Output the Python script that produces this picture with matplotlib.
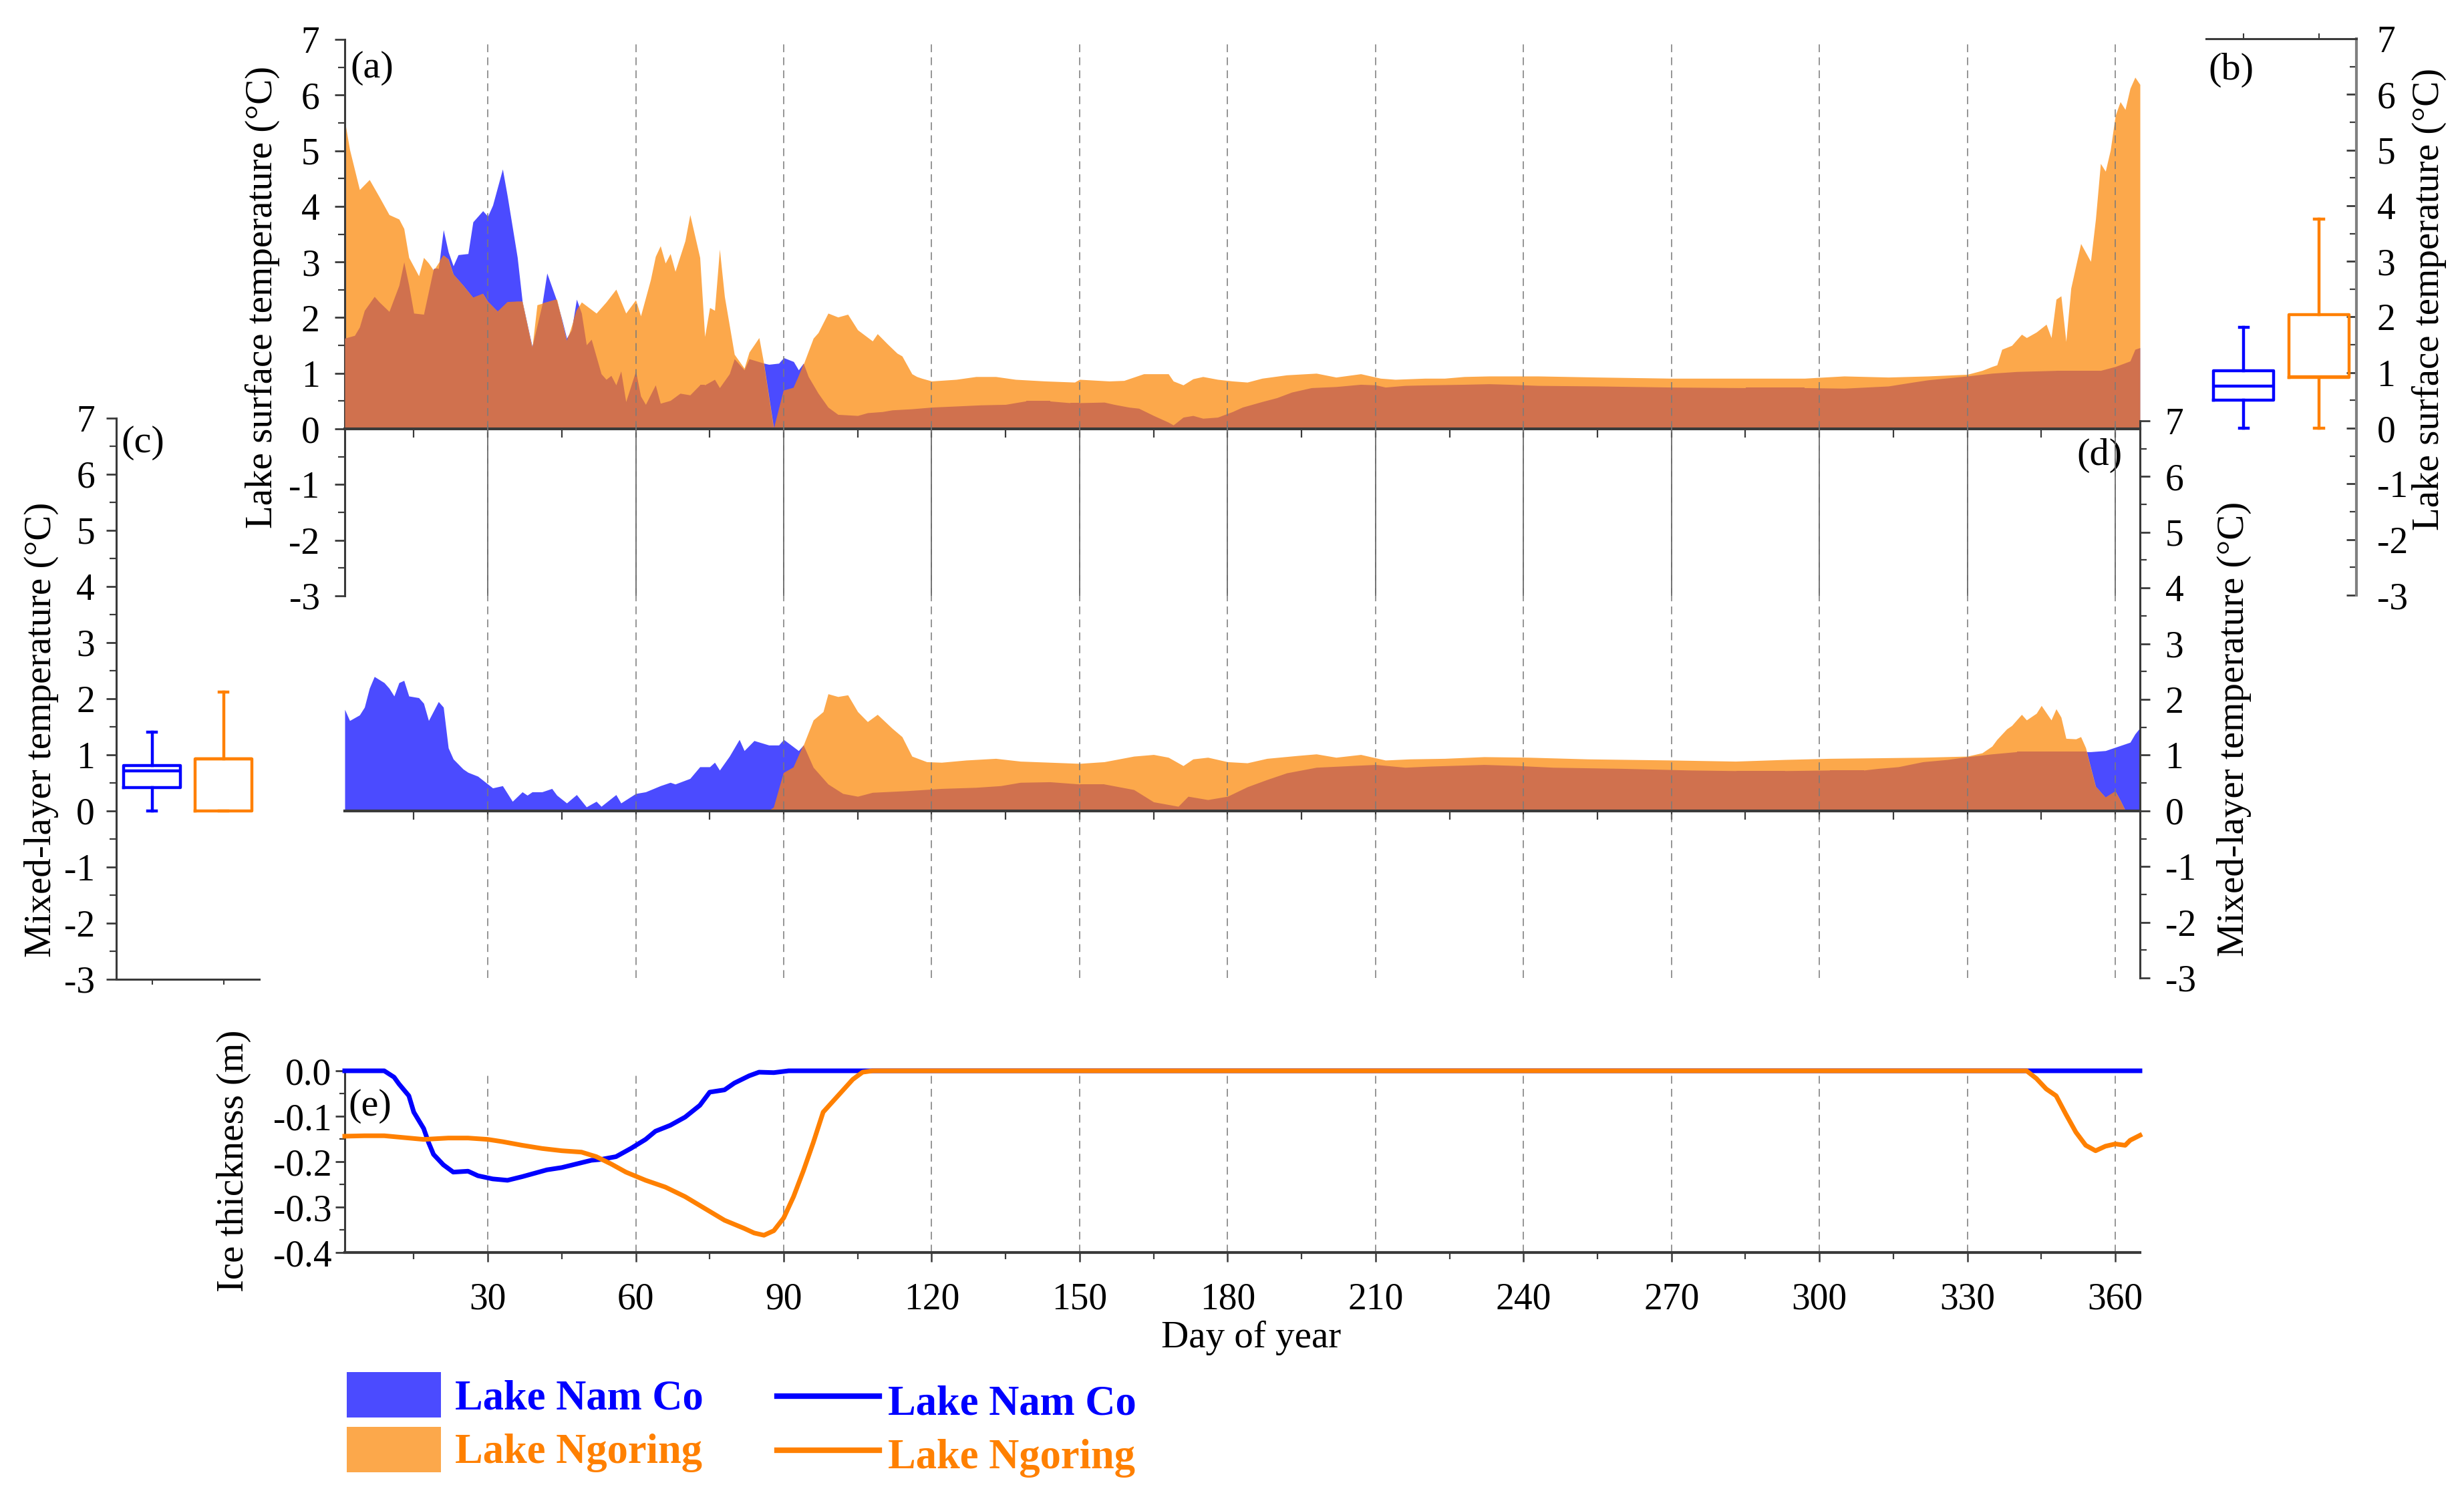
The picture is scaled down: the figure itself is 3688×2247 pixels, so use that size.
import numpy as np
import matplotlib
matplotlib.use("Agg")
import matplotlib.pyplot as plt
from matplotlib.patches import Patch
from matplotlib.lines import Line2D
from matplotlib.ticker import FixedLocator, MultipleLocator

plt.rcParams['font.family'] = ['Liberation Serif', 'DejaVu Serif']
plt.rcParams['axes.unicode_minus'] = False

# ---------------- data ----------------
# (a) lake surface temperature, Lake Ngoring
a_ngo_day = [1, 2, 4, 6, 8, 10, 12, 13, 14, 16,
             17, 18, 19, 21, 22, 23, 25, 27, 29, 30,
             32, 34, 36, 37, 39, 40, 42, 44, 46, 48,
             49, 52, 54, 56, 58, 60, 61, 63, 64, 65,
             66, 67, 68, 70, 71, 73, 74, 75, 76, 77,
             78, 80, 82, 83, 85, 86, 88, 90, 92, 93,
             94, 96, 97, 99, 101, 103, 105, 108, 109, 111,
             113, 114, 116, 117, 118, 120, 125, 129, 133, 137,
             143, 149, 150, 156, 159, 163, 168, 169, 171, 173,
             175, 178, 181, 184, 187, 192, 198, 202, 207, 211,
             214, 220, 224, 228, 233, 243, 255, 270, 285, 297,
             305, 314, 322, 330, 333, 335, 336, 337, 339, 341,
             342, 344, 346, 347, 348, 349, 350, 351, 353, 355,
             356, 357, 358, 359, 360, 361, 362, 363, 364, 365]
a_ngo = [5.54, 5.02, 4.30, 4.48, 4.17, 3.85, 3.77, 3.60, 3.08, 2.75,
         3.08, 2.98, 2.85, 3.12, 3.05, 2.78, 2.58, 2.36, 2.43, 2.29,
         2.11, 2.28, 2.29, 2.29, 1.46, 2.23, 2.28, 2.33, 1.58, 2.13,
         2.28, 2.08, 2.28, 2.51, 2.08, 2.32, 2.03, 2.68, 3.10, 3.29,
         2.98, 3.15, 2.83, 3.38, 3.85, 3.08, 1.66, 2.18, 2.13, 3.23,
         2.38, 1.34, 1.09, 1.38, 1.64, 1.16, 0.00, 0.69, 0.74, 0.94,
         1.16, 1.63, 1.73, 2.08, 2.01, 2.06, 1.78, 1.58, 1.71, 1.53,
         1.36, 1.31, 0.99, 0.94, 0.91, 0.86, 0.89, 0.94, 0.94, 0.89,
         0.86, 0.84, 0.89, 0.86, 0.87, 0.99, 0.99, 0.86, 0.79, 0.90,
         0.94, 0.89, 0.86, 0.84, 0.91, 0.97, 1.00, 0.93, 0.99, 0.91,
         0.89, 0.91, 0.91, 0.94, 0.95, 0.95, 0.93, 0.91, 0.91, 0.91,
         0.95, 0.93, 0.95, 0.98, 1.05, 1.12, 1.15, 1.43, 1.50, 1.70,
         1.64, 1.74, 1.88, 1.64, 2.33, 2.39, 1.57, 2.53, 3.33, 3.01,
         3.77, 4.77, 4.63, 5.01, 5.63, 5.88, 5.74, 6.12, 6.32, 6.19]

# (a) lake surface temperature, Lake Nam Co
a_nam_day = [1, 3, 4, 5, 7, 8, 10, 12, 13, 14,
             15, 17, 19, 20, 21, 22, 23, 24, 26, 27,
             28, 29, 30, 31, 33, 34, 36, 37, 39, 41,
             42, 44, 45, 46, 47, 48, 49, 50, 51, 53,
             54, 55, 56, 57, 58, 60, 61, 62, 64, 65,
             67, 69, 71, 73, 74, 76, 77, 79, 80, 82,
             83, 86, 87, 89, 90, 92, 93, 94, 95, 97,
             99, 101, 105, 107, 110, 112, 116, 120, 125, 130,
             135, 139, 144, 148, 150, 155, 157, 160, 162, 165,
             168, 169, 171, 173, 175, 178, 181, 183, 187, 190,
             193, 197, 202, 207, 210, 212, 216, 221, 228, 233,
             237, 243, 255, 270, 285, 297, 305, 314, 319, 322,
             330, 335, 340, 348, 357, 360, 363, 364, 365]
a_nam = [1.63, 1.68, 1.83, 2.13, 2.38, 2.28, 2.11, 2.58, 3.00, 2.58,
         2.08, 2.06, 2.88, 2.88, 3.58, 3.18, 2.93, 3.13, 3.15, 3.72,
         3.82, 3.92, 3.82, 4.02, 4.67, 4.17, 3.08, 2.29, 1.48, 2.23,
         2.80, 2.30, 1.98, 1.63, 1.78, 2.33, 2.08, 1.51, 1.61, 0.99,
         0.89, 0.96, 0.79, 1.04, 0.49, 1.04, 0.59, 0.44, 0.79, 0.46,
         0.51, 0.64, 0.61, 0.79, 0.79, 0.89, 0.74, 0.99, 1.26, 1.06,
         1.26, 1.18, 1.16, 1.18, 1.28, 1.21, 1.06, 1.18, 0.94, 0.64,
         0.39, 0.26, 0.24, 0.29, 0.31, 0.34, 0.36, 0.39, 0.41, 0.43,
         0.44, 0.50, 0.50, 0.47, 0.47, 0.48, 0.44, 0.39, 0.37, 0.24,
         0.12, 0.07, 0.21, 0.24, 0.19, 0.21, 0.31, 0.39, 0.49, 0.56,
         0.66, 0.74, 0.76, 0.80, 0.79, 0.75, 0.78, 0.79, 0.80, 0.81,
         0.80, 0.78, 0.77, 0.75, 0.74, 0.74, 0.73, 0.77, 0.84, 0.88,
         0.95, 1.00, 1.03, 1.05, 1.05, 1.12, 1.22, 1.43, 1.46]

# (d) mixed-layer temperature, Lake Nam Co
d_nam_day = [1, 2, 4, 5, 6, 7, 9, 10, 11, 12,
             13, 14, 16, 17, 18, 20, 21, 22, 23, 25,
             26, 28, 30, 31, 33, 34, 35, 37, 38, 39,
             41, 43, 44, 46, 48, 50, 52, 53, 56, 57,
             60, 62, 65, 67, 68, 71, 73, 75, 76, 77,
             79, 81, 82, 84, 87, 89, 90, 93, 94, 96,
             99, 102, 105, 108, 115, 122, 129, 134, 138, 144,
             150, 155, 161, 165, 170, 172, 176, 180, 184, 188,
             192, 198, 205, 210, 216, 221, 232, 239, 246, 260,
             274, 283, 293, 302, 309, 312, 316, 321, 326, 330,
             335, 340, 349, 355, 358, 360, 363, 364, 365]
d_nam = [1.82, 1.62, 1.72, 1.86, 2.20, 2.41, 2.30, 2.20, 2.06, 2.30,
         2.34, 2.06, 2.03, 1.93, 1.62, 1.96, 1.86, 1.13, 0.93, 0.75,
         0.69, 0.62, 0.48, 0.41, 0.45, 0.31, 0.17, 0.34, 0.28, 0.34,
         0.34, 0.40, 0.28, 0.14, 0.29, 0.07, 0.17, 0.08, 0.29, 0.14,
         0.31, 0.34, 0.45, 0.51, 0.48, 0.58, 0.79, 0.79, 0.87, 0.73,
         0.98, 1.28, 1.08, 1.26, 1.18, 1.18, 1.28, 1.08, 1.18, 0.78,
         0.48, 0.31, 0.26, 0.33, 0.36, 0.40, 0.42, 0.45, 0.51, 0.52,
         0.48, 0.48, 0.38, 0.16, 0.08, 0.26, 0.20, 0.26, 0.43, 0.56,
         0.68, 0.78, 0.81, 0.83, 0.78, 0.80, 0.83, 0.81, 0.78, 0.76,
         0.73, 0.72, 0.72, 0.73, 0.73, 0.76, 0.79, 0.88, 0.92, 0.97,
         1.02, 1.06, 1.06, 1.06, 1.08, 1.14, 1.23, 1.38, 1.49]

# (d) mixed-layer temperature, Lake Ngoring
d_ngo_day = [1, 87, 88, 90, 92, 94, 96, 98, 99, 101,
             103, 105, 107, 109, 112, 114, 116, 119, 122, 127,
             133, 138, 144, 150, 155, 161, 165, 168, 171, 173,
             176, 180, 184, 188, 194, 198, 202, 207, 212, 217,
             224, 232, 241, 253, 270, 283, 293, 302, 312, 321,
             330, 333, 335, 336, 338, 339, 341, 342, 344, 345,
             347, 348, 349, 350, 352, 353, 354, 355, 356, 357,
             358, 360, 361, 362, 365]
d_ngo = [0.00, 0.00, 0.06, 0.68, 0.78, 1.18, 1.63, 1.78, 2.10, 2.05,
         2.08, 1.78, 1.60, 1.73, 1.48, 1.33, 0.98, 0.88, 0.87, 0.91,
         0.94, 0.89, 0.87, 0.85, 0.88, 0.98, 1.01, 0.96, 0.81, 0.93,
         0.96, 0.88, 0.86, 0.94, 0.99, 1.02, 0.96, 1.01, 0.91, 0.93,
         0.94, 0.97, 0.96, 0.93, 0.91, 0.89, 0.92, 0.94, 0.95, 0.96,
         0.98, 1.04, 1.16, 1.28, 1.47, 1.53, 1.73, 1.63, 1.75, 1.89,
         1.63, 1.83, 1.68, 1.30, 1.29, 1.33, 1.13, 0.78, 0.44, 0.34,
         0.24, 0.35, 0.19, 0.01, 0.00]

# (e) ice thickness
e_nam_day = [1, 9, 11, 12, 14, 15, 17, 18, 19, 21,
             23, 26, 28, 31, 34, 37, 40, 42, 45, 48,
             51, 53, 56, 59, 62, 64, 67, 70, 73, 75,
             78, 80, 83, 85, 88, 91, 365]
e_nam = [0.0, 0.0, -0.014, -0.029, -0.055, -0.091, -0.127, -0.158, -0.184, -0.207,
         -0.223, -0.221, -0.231, -0.238, -0.241, -0.233, -0.224, -0.218, -0.213, -0.205,
         -0.197, -0.195, -0.189, -0.171, -0.151, -0.133, -0.120, -0.102, -0.076, -0.047,
         -0.042, -0.027, -0.011, -0.003, -0.004, 0.0, 0.0]
e_ngo_day = [1, 5, 9, 13, 17, 22, 26, 30, 33, 37,
             41, 45, 49, 52, 55, 58, 62, 66, 70, 74,
             78, 82, 84, 86, 88, 90, 92, 94, 96, 98,
             101, 104, 106, 108, 342, 344, 346, 348, 350, 352,
             354, 356, 358, 360, 362, 363, 365]
e_ngo = [-0.144, -0.143, -0.143, -0.147, -0.151, -0.148, -0.148, -0.151, -0.156, -0.164,
         -0.171, -0.176, -0.179, -0.189, -0.205, -0.223, -0.241, -0.256, -0.277, -0.303,
         -0.329, -0.347, -0.357, -0.362, -0.352, -0.324, -0.277, -0.220, -0.158, -0.091,
         -0.055, -0.019, -0.003, 0.0, 0.0, -0.017, -0.040, -0.055, -0.096, -0.135,
         -0.164, -0.176, -0.166, -0.161, -0.164, -0.153, -0.142]

# box-plot summaries: [whisker low, Q1, median, Q3, whisker high]
b_nam_stats = [0.0, 0.50, 0.76, 1.03, 1.81]
b_ngo_stats = [0.0, 0.91, 0.93, 2.04, 3.76]
c_nam_stats = [0.0, 0.42, 0.72, 0.81, 1.40]
c_ngo_stats = [0.0, 0.00, 0.93, 0.93, 2.12]

lake_names = ['Lake Nam Co', 'Lake Ngoring']
day_ticks = [30, 60, 90, 120, 150, 180, 210, 240, 270, 300, 330, 360]
day_labels = ['30', '60', '90', '120', '150', '180', '210', '240', '270', '300', '330', '360']
temp_ticks = [-3, -2, -1, 0, 1, 2, 3, 4, 5, 6, 7]
temp_labels = ['-3', '-2', '-1', '0', '1', '2', '3', '4', '5', '6', '7']
ice_ticks = [-0.4, -0.3, -0.2, -0.1, 0.0]
ice_labels = ['-0.4', '-0.3', '-0.2', '-0.1', '0.0']

# ---------------- style ----------------
BLUE_F = '#4B4BFF'
ORANGE_F = '#FCA84B'
BROWN = '#D0714E'
BLUE_L = '#0000FF'
ORANGE_L = '#FF8000'
SPINE = '#3a3a3a'
TICK_FS = 40
LAB_FS = 41

W, H = 3688, 2247
fig = plt.figure(figsize=(W / 100, H / 100), dpi=100)


def axes_px(x0, y0, x1, y1):
    ax = fig.add_axes([x0 / W, 1 - y1 / H, (x1 - x0) / W, (y1 - y0) / H])
    ax.set_facecolor('none')
    for s in ax.spines.values():
        s.set_color(SPINE)
        s.set_linewidth(2.2)
    return ax


X0, X1 = 516, 3203
ax_a = axes_px(X0, 59, X1, 892)
ax_d = axes_px(X0, 630, X1, 1464)
ax_b = axes_px(3302, 58, 3527, 891)
ax_c = axes_px(174, 626, 388, 1466)
ax_e = axes_px(X0, 1603, X1, 1875)


def overlap_fill(ax, dn, vn, dg, vg):
    ax.fill_between(dn, 0, vn, color=BLUE_F, lw=0, zorder=1)
    pg = ax.fill_between(dg, 0, vg, color=ORANGE_F, lw=0, zorder=2)
    pb = ax.fill_between(dn, 0, vn, color=BROWN, lw=0, zorder=3)
    pb.set_clip_path(pg.get_paths()[0], ax.transData)


def temp_axis(ax, side):
    ax.set_xlim(1, 365)
    ax.set_ylim(-3, 7)
    ax.spines['top'].set_visible(False)
    other = 'right' if side == 'left' else 'left'
    ax.spines[other].set_visible(False)
    ax.spines['bottom'].set_position(('data', 0))
    ax.spines['bottom'].set_linewidth(3)
    ax.spines['bottom'].set_zorder(6)
    ax.xaxis.set_major_locator(FixedLocator(day_ticks))
    ax.xaxis.set_minor_locator(MultipleLocator(15))
    ax.tick_params(axis='x', which='both', direction='out', length=9, width=1.6,
                   colors=SPINE, labelbottom=False)
    ax.yaxis.set_major_locator(FixedLocator(temp_ticks))
    ax.set_yticklabels(temp_labels)
    ax.yaxis.set_minor_locator(MultipleLocator(0.5))
    if side == 'right':
        ax.yaxis.tick_right()
        ax.yaxis.set_label_position('right')
    ax.tick_params(axis='y', which='major', direction='out', length=11, width=2,
                   labelsize=TICK_FS, pad=16, color=SPINE, labelcolor='black')
    ax.tick_params(axis='y', which='minor', direction='out', length=7, width=1.6, color=SPINE)


# ---- (a) surface temperature ----
overlap_fill(ax_a, a_nam_day, a_nam, a_ngo_day, a_ngo)
temp_axis(ax_a, 'left')
ax_a.vlines(day_ticks, 0, 7, colors='#7a7a7a', linestyles=(0, (6, 4)), lw=1.4,
            alpha=0.8, zorder=4)
ax_a.vlines(day_ticks, -3, 0, colors='#606060', lw=1.3, zorder=4)
ax_a.set_ylabel('Lake surface temperature (°C)', fontsize=LAB_FS)
ax_a.yaxis.set_label_coords(-0.036, 0.537)
ax_a.text(0.003, 0.980, '(a)', transform=ax_a.transAxes, ha='left', va='top', fontsize=42)

# ---- (d) mixed-layer temperature ----
overlap_fill(ax_d, d_nam_day, d_nam, d_ngo_day, d_ngo)
temp_axis(ax_d, 'right')
ax_d.vlines(day_ticks, -3, 7, colors='#7a7a7a', linestyles=(0, (6, 4)), lw=1.4,
            alpha=0.8, zorder=4)
ax_d.set_ylabel('Mixed-layer temperature (°C)', fontsize=LAB_FS)
ax_d.yaxis.set_label_coords(1.0428, 0.447)
ax_d.text(0.990, 0.969, '(d)', transform=ax_d.transAxes, ha='right', va='top', fontsize=42)


# ---- box plots ----
def stats_dict(s):
    return dict(whislo=s[0], q1=s[1], med=s[2], q3=s[3], whishi=s[4], fliers=[])


def draw_box(ax, stats):
    lw = 3.2
    bp = ax.bxp([stats_dict(s) for s in stats], positions=[1, 2], widths=0.8,
                showfliers=False, capwidths=0.12,
                boxprops=dict(lw=lw), whiskerprops=dict(lw=lw),
                capprops=dict(lw=lw), medianprops=dict(lw=lw))
    for i, c in enumerate([BLUE_L, ORANGE_L]):
        bp['boxes'][i].set_color(c)
        bp['medians'][i].set_color(c)
        for j in (2 * i, 2 * i + 1):
            bp['whiskers'][j].set_color(c)
            bp['caps'][j].set_color(c)
    ax.set_xlim(0.5, 2.5)
    ax.set_ylim(-3, 7)
    ax.yaxis.set_major_locator(FixedLocator(temp_ticks))
    ax.set_yticklabels(temp_labels)
    ax.yaxis.set_minor_locator(MultipleLocator(0.5))
    ax.xaxis.set_major_locator(FixedLocator([1, 2]))


# (b)
draw_box(ax_b, [b_nam_stats, b_ngo_stats])
ax_b.spines['left'].set_visible(False)
ax_b.spines['bottom'].set_visible(False)
ax_b.spines['right'].set_color('#808080')
ax_b.spines['right'].set_linewidth(3)
ax_b.xaxis.tick_top()
ax_b.tick_params(axis='x', which='both', direction='out', length=6, width=1.5,
                 labeltop=False, labelbottom=False, color=SPINE)
ax_b.yaxis.tick_right()
ax_b.yaxis.set_label_position('right')
ax_b.tick_params(axis='y', which='major', direction='in', length=11, width=2,
                 labelsize=TICK_FS, pad=22, color=SPINE)
ax_b.tick_params(axis='y', which='minor', direction='in', length=7, width=1.6, color=SPINE)
ax_b.set_ylabel('Lake surface temperature (°C)', fontsize=LAB_FS)
ax_b.yaxis.set_label_coords(1.369, 0.532)
ax_b.text(0.013, 0.975, '(b)', transform=ax_b.transAxes, ha='left', va='top', fontsize=42)

# (c)
draw_box(ax_c, [c_nam_stats, c_ngo_stats])
ax_c.spines['right'].set_visible(False)
ax_c.spines['top'].set_visible(False)
ax_c.tick_params(axis='x', which='both', direction='out', length=6, width=1.5,
                 labelbottom=False, color=SPINE)
ax_c.tick_params(axis='y', which='major', direction='out', length=11, width=2,
                 labelsize=TICK_FS, pad=12, color=SPINE)
ax_c.tick_params(axis='y', which='minor', direction='out', length=7, width=1.6, color=SPINE)
ax_c.set_ylabel('Mixed-layer temperature (°C)', fontsize=LAB_FS)
ax_c.yaxis.set_label_coords(-0.402, 0.445)
ax_c.text(0.033, 0.987, '(c)', transform=ax_c.transAxes, ha='left', va='top', fontsize=42)

# ---- (e) ice thickness ----
ax_e.set_xlim(1, 365)
ax_e.set_ylim(-0.4, 0.0)
ax_e.spines['top'].set_visible(False)
ax_e.spines['right'].set_visible(False)
ax_e.spines['bottom'].set_linewidth(3)
ax_e.vlines(day_ticks, -0.4, 0.0, colors='#7a7a7a', linestyles=(0, (6, 4)), lw=1.4,
            alpha=0.8, zorder=1)
ax_e.plot(e_nam_day, e_nam, color=BLUE_L, lw=5, clip_on=False, zorder=5)
ax_e.plot(e_ngo_day, e_ngo, color=ORANGE_L, lw=5, clip_on=False, zorder=6)
ax_e.xaxis.set_major_locator(FixedLocator(day_ticks))
ax_e.set_xticklabels(day_labels)
ax_e.xaxis.set_minor_locator(MultipleLocator(15))
ax_e.tick_params(axis='x', which='major', direction='out', length=10, width=1.8,
                 labelsize=TICK_FS, pad=22, color=SPINE)
ax_e.tick_params(axis='x', which='minor', direction='out', length=7, width=1.6, color=SPINE)
ax_e.yaxis.set_major_locator(FixedLocator(ice_ticks))
ax_e.set_yticklabels(ice_labels)
ax_e.yaxis.set_minor_locator(MultipleLocator(0.05))
ax_e.tick_params(axis='y', which='major', direction='out', length=10, width=2,
                 labelsize=TICK_FS, pad=4, color=SPINE)
ax_e.tick_params(axis='y', which='minor', direction='out', length=6, width=1.6, color=SPINE)
ax_e.set_ylabel('Ice thickness (m)', fontsize=LAB_FS)
ax_e.yaxis.set_label_coords(-0.052, 0.504)
ax_e.set_xlabel('Day of year', fontsize=LAB_FS)
ax_e.xaxis.set_label_coords(0.505, -0.375)
ax_e.text(0.002, 0.90, '(e)', transform=ax_e.transAxes, ha='left', va='top', fontsize=42)

# ---- legends ----
leg_font = dict(family='Liberation Serif', weight='bold', size=45)
patch_handles = [Patch(facecolor=BLUE_F, edgecolor='none'),
                 Patch(facecolor=ORANGE_F, edgecolor='none')]
leg1 = fig.legend(patch_handles, lake_names, loc='upper left',
                  bbox_to_anchor=(519 / W, 1 - 2054 / H), frameon=False, prop=leg_font,
                  handlelength=2.26, handleheight=1.3, handletextpad=0.33,
                  labelspacing=0.2, borderpad=0, borderaxespad=0)
for t, c in zip(leg1.get_texts(), [BLUE_L, ORANGE_L]):
    t.set_color(c)

line_handles = [Line2D([], [], color=BLUE_L, lw=6), Line2D([], [], color=ORANGE_L, lw=6)]
leg2 = fig.legend(line_handles, lake_names, loc='upper left',
                  bbox_to_anchor=(1163 / W, 1 - 2062 / H), frameon=False, prop=leg_font,
                  handlelength=2.45, handleheight=1.3, handletextpad=0.21,
                  labelspacing=0.2, borderpad=0, borderaxespad=0)
for t, c in zip(leg2.get_texts(), [BLUE_L, ORANGE_L]):
    t.set_color(c)

fig.savefig('out.png', dpi=100)
